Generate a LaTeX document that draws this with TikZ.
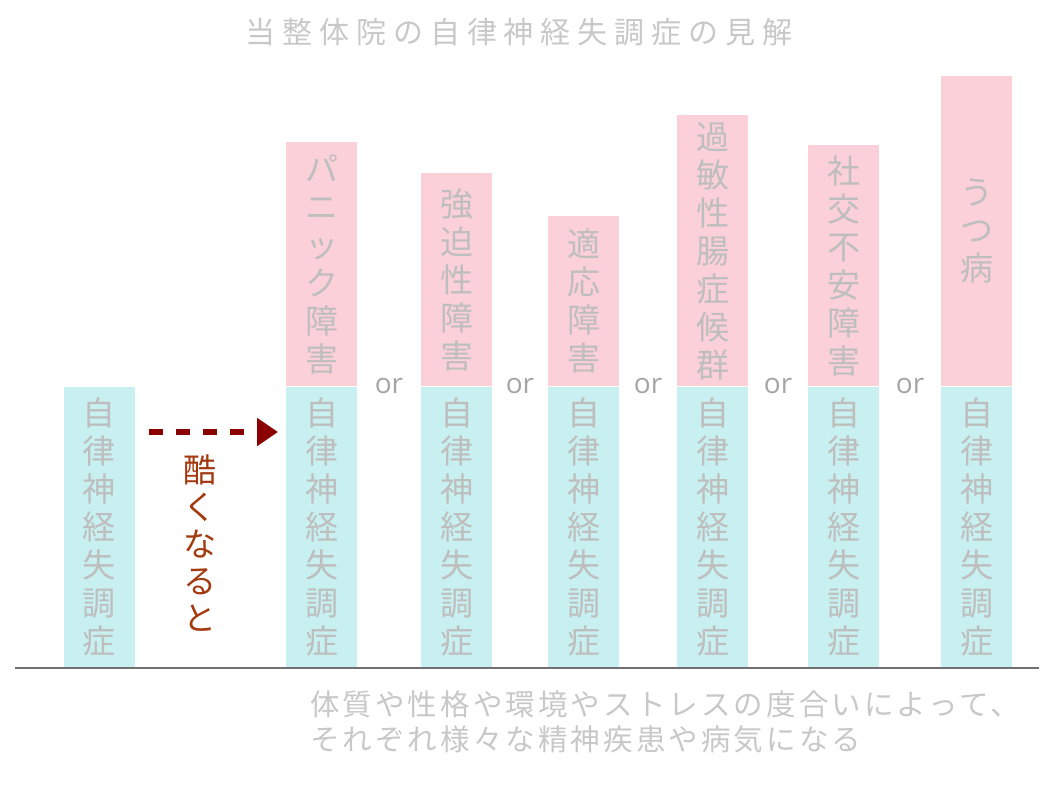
\documentclass[tikz,border=0pt]{standalone}
\usepackage{fontspec}
\usetikzlibrary{arrows.meta}
\newfontfamily\jpfont{Noto Sans CJK JP}
\newfontfamily\jptitle[LetterSpace=23]{Noto Sans CJK JP}
\newfontfamily\jpnote[LetterSpace=10.5]{Noto Sans CJK JP}
\newfontfamily\orfont{Open Sans}
\definecolor{cyanbar}{RGB}{200,240,240}
\definecolor{pinkbar}{RGB}{252,208,216}
\definecolor{bartext}{RGB}{190,190,190}
\definecolor{lighttext}{RGB}{200,200,200}
\definecolor{ortext}{RGB}{165,165,165}
\definecolor{arrowred}{RGB}{139,0,0}
\definecolor{worsetext}{RGB}{163,58,16}
\definecolor{basegray}{RGB}{112,112,112}
\begin{document}
\begin{tikzpicture}[x=1pt, y=-1pt,
  lowbar/.style={fill=cyanbar, minimum width=71pt, inner sep=0pt, anchor=south,
    text=bartext, align=center, font=\jpfont\fontsize{33}{38}\selectfont},
  highbar/.style={lowbar, fill=pinkbar},
  orlabel/.style={anchor=base, text=ortext, inner sep=0pt, font=\orfont\fontsize{28}{30}\selectfont},
  worse/.style={draw=arrowred, line width=6pt, dash pattern=on 14pt off 13pt, -{Triangle[length=21pt,width=27pt]}}]
\useasboundingbox (0,0) rectangle (1051,800);
%
\node[text=lighttext, font=\jptitle\fontsize{30}{36}\selectfont](title) at (519,32) {当整体院の自律神経失調症の見解};
%
\node[lowbar, minimum height=280pt](low0) at (99,667) {自\\律\\神\\経\\失\\調\\症};
\node[lowbar, minimum height=280pt](low1) at (321.5,667) {自\\律\\神\\経\\失\\調\\症};
\node[lowbar, minimum height=280pt](low2) at (456.5,667) {自\\律\\神\\経\\失\\調\\症};
\node[lowbar, minimum height=280pt](low3) at (583.5,667) {自\\律\\神\\経\\失\\調\\症};
\node[lowbar, minimum height=280pt](low4) at (712.5,667) {自\\律\\神\\経\\失\\調\\症};
\node[lowbar, minimum height=280pt](low5) at (843.5,667) {自\\律\\神\\経\\失\\調\\症};
\node[lowbar, minimum height=280pt](low6) at (976.5,667) {自\\律\\神\\経\\失\\調\\症};
%
\node[highbar, minimum height=244pt](high1) at (low1.north) {パ\\ニ\\ッ\\ク\\障\\害};
\node[highbar, minimum height=213pt](high2) at (low2.north) {強\\迫\\性\\障\\害};
\node[highbar, minimum height=170pt](high3) at (low3.north) {適\\応\\障\\害};
\node[highbar, minimum height=271pt](high4) at (low4.north) {過\\敏\\性\\腸\\症\\候\\群};
\node[highbar, minimum height=241pt](high5) at (low5.north) {社\\交\\不\\安\\障\\害};
\node[highbar, minimum height=310pt](high6) at (low6.north) {う\\つ\\病};
%
\node[orlabel](or1) at (389,393) {or};
\node[orlabel](or2) at (520,393) {or};
\node[orlabel](or3) at (648,393) {or};
\node[orlabel](or4) at (778,393) {or};
\node[orlabel](or5) at (910,393) {or};
%
\coordinate (arrS) at (149,432);
\coordinate (arrE) at (278,432);
\draw[worse] (arrS) -- (arrE);
\node[text=worsetext, align=center, font=\jpfont\fontsize{33}{37}\selectfont](worse) at (200,543) {酷\\く\\な\\る\\と};
%
\coordinate (baseL) at (15,667.5);
\coordinate (baseR) at (1039,667.5);
\draw[basegray, line width=2pt] (baseL) -- (baseR);
%
\node[anchor=west, align=left, inner sep=0pt, text=lighttext, font=\jpnote\fontsize{29.5}{35}\selectfont](note) at (310,722) {体質や性格や環境やストレスの度合いによって、\\それぞれ様々な精神疾患や病気になる};
\end{tikzpicture}
\end{document}
